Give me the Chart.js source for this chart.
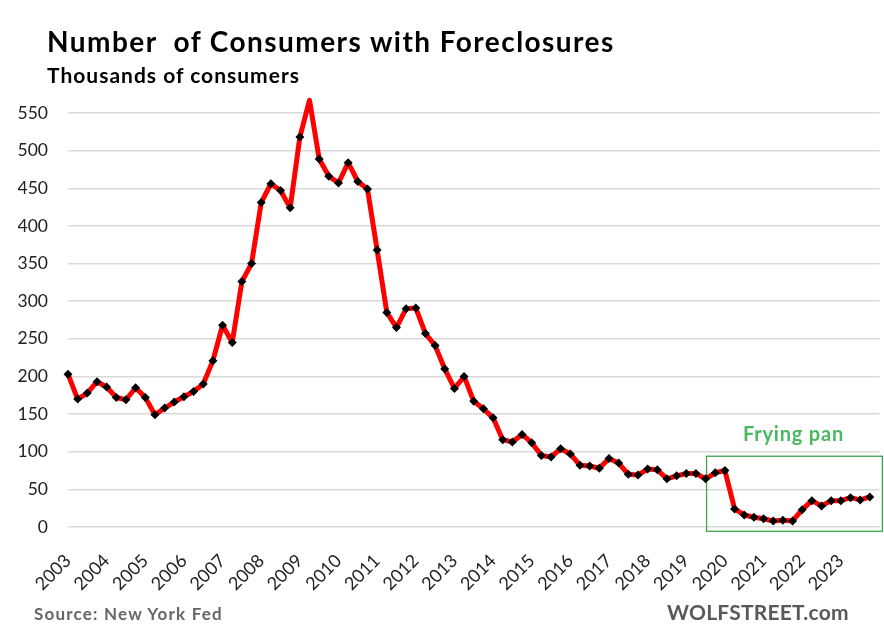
<!DOCTYPE html>
<html>
<head>
<meta charset="utf-8">
<script src="https://cdn.jsdelivr.net/npm/chart.js@4.4.1/dist/chart.umd.min.js"></script>
<style>
  body { margin: 0; background: #fff; }
  #wrap { position: relative; width: 884px; height: 630px; overflow: hidden; }
  #chart { position: absolute; left: 0; top: 0; }
  .txt { position: absolute; font-family: Lato, "Open Sans", sans-serif; font-weight: bold; white-space: pre; line-height: 1; }
  #title { left: 47px; top: 27px; font-size: 28px; color: #000; letter-spacing: 1.45px; }
  #subtitle { left: 47px; top: 64px; font-size: 21px; color: #000; letter-spacing: 1px; }
  #source { left: 34px; top: 605px; font-size: 17px; color: #666; letter-spacing: 1.2px; }
  #brand { left: 667px; top: 601px; font-size: 21px; color: #595959; letter-spacing: 0.2px; }
</style>
</head>
<body>
<div id="wrap">
  <canvas id="chart" width="884" height="630"></canvas>
  <div class="txt" id="title">Number  of Consumers with Foreclosures</div>
  <div class="txt" id="subtitle">Thousands of consumers</div>
  <div class="txt" id="source">Source: New York Fed</div>
  <div class="txt" id="brand">WOLFSTREET.com</div>
</div>
<script>
// quarterly, 2003 Q1 .. 2023 Q4, thousands of consumers
var years = ["2003", "2004", "2005", "2006", "2007", "2008", "2009", "2010", "2011", "2012",
  "2013", "2014", "2015", "2016", "2017", "2018", "2019", "2020", "2021", "2022", "2023"];

var foreclosures = [
  203, 170, 178, 193, 186, 172, 169, 185, 172, 149, 158, 166, 173, 180, 190, 221,
  268, 245, 326, 350, 431, 456, 447, 424, 518, 567, 489, 466, 457, 484, 459, 449,
  368, 285, 265, 290, 291, 257, 241, 210, 184, 200, 167, 157, 145, 116, 113, 123,
  112, 95, 93, 104, 97, 82, 81, 78, 91, 85, 70, 69, 77, 76, 64, 68,
  71, 71, 64, 72, 75, 24, 16, 13, 11, 8, 9, 8, 23, 35, 28, 35,
  35, 39, 36, 40
];

// "frying pan" box, in quarter index / value units
var panLabel = "Frying pan";
var panBox = { x0: 66.1, x1: 84.3, y0: -5.7, y1: 94 };

var fontFamily = "Lato, 'Open Sans', sans-serif";

var panPlugin = {
  id: "pan",
  beforeDatasetsDraw: function (chart) {
    var ctx = chart.ctx;
    var xs = chart.scales.x, ys = chart.scales.y;
    var l = xs.getPixelForValue(panBox.x0), r = xs.getPixelForValue(panBox.x1);
    var t = ys.getPixelForValue(panBox.y1), b = ys.getPixelForValue(panBox.y0);
    ctx.save();
    ctx.strokeStyle = "#3aa54f";
    ctx.lineWidth = 1.3;
    ctx.strokeRect(l, t, r - l, b - t);
    ctx.fillStyle = "#4bb862";
    ctx.font = "bold 20px " + fontFamily;
    ctx.letterSpacing = "0.8px";
    ctx.textAlign = "center";
    ctx.textBaseline = "alphabetic";
    ctx.fillText(panLabel, (l + r) / 2 - 1, t - 15);
    ctx.restore();
  }
};

function init() {
  var ctx = document.getElementById("chart");
  var points = foreclosures.map(function (v, i) { return { x: i, y: v }; });

  new Chart(ctx, {
    type: "line",
    data: {
      datasets: [{
        data: points,
        borderColor: "#ff0000",
        borderWidth: 5,
        borderJoinStyle: "round",
        borderCapStyle: "round",
        tension: 0,
        pointStyle: "rectRot",
        pointRadius: 4.5,
        pointBorderWidth: 0,
        pointBackgroundColor: "#000",
        pointBorderColor: "#000",
        clip: false
      }]
    },
    options: {
      responsive: false,
      animation: false,
      layout: { padding: { left: 18, right: 4, top: 113, bottom: 28 } },
      plugins: { legend: { display: false }, tooltip: { enabled: false } },
      scales: {
        x: {
          type: "linear",
          min: 0,
          max: 84,
          grid: { display: false },
          border: { display: false },
          afterFit: function (s) {
            s.height = 75;
            s.paddingLeft = 0;
            s.paddingRight = 0;
          },
          ticks: {
            stepSize: 4,
            autoSkip: false,
            maxRotation: 45,
            minRotation: 45,
            padding: 15,
            color: "#222",
            font: { family: fontFamily, size: 18 },
            callback: function (v) { return years[v / 4] || ""; }
          }
        },
        y: {
          min: 0,
          max: 550,
          border: { display: false },
          grid: { color: "#d9d9d9", lineWidth: 1.5, drawTicks: false },
          afterFit: function (s) { s.width = 50; },
          ticks: {
            stepSize: 50,
            padding: 20,
            color: "#222",
            font: { family: fontFamily, size: 17.5 }
          }
        }
      }
    },
    plugins: [panPlugin]
  });
}

window.onload = init;
</script>
</body>
</html>
